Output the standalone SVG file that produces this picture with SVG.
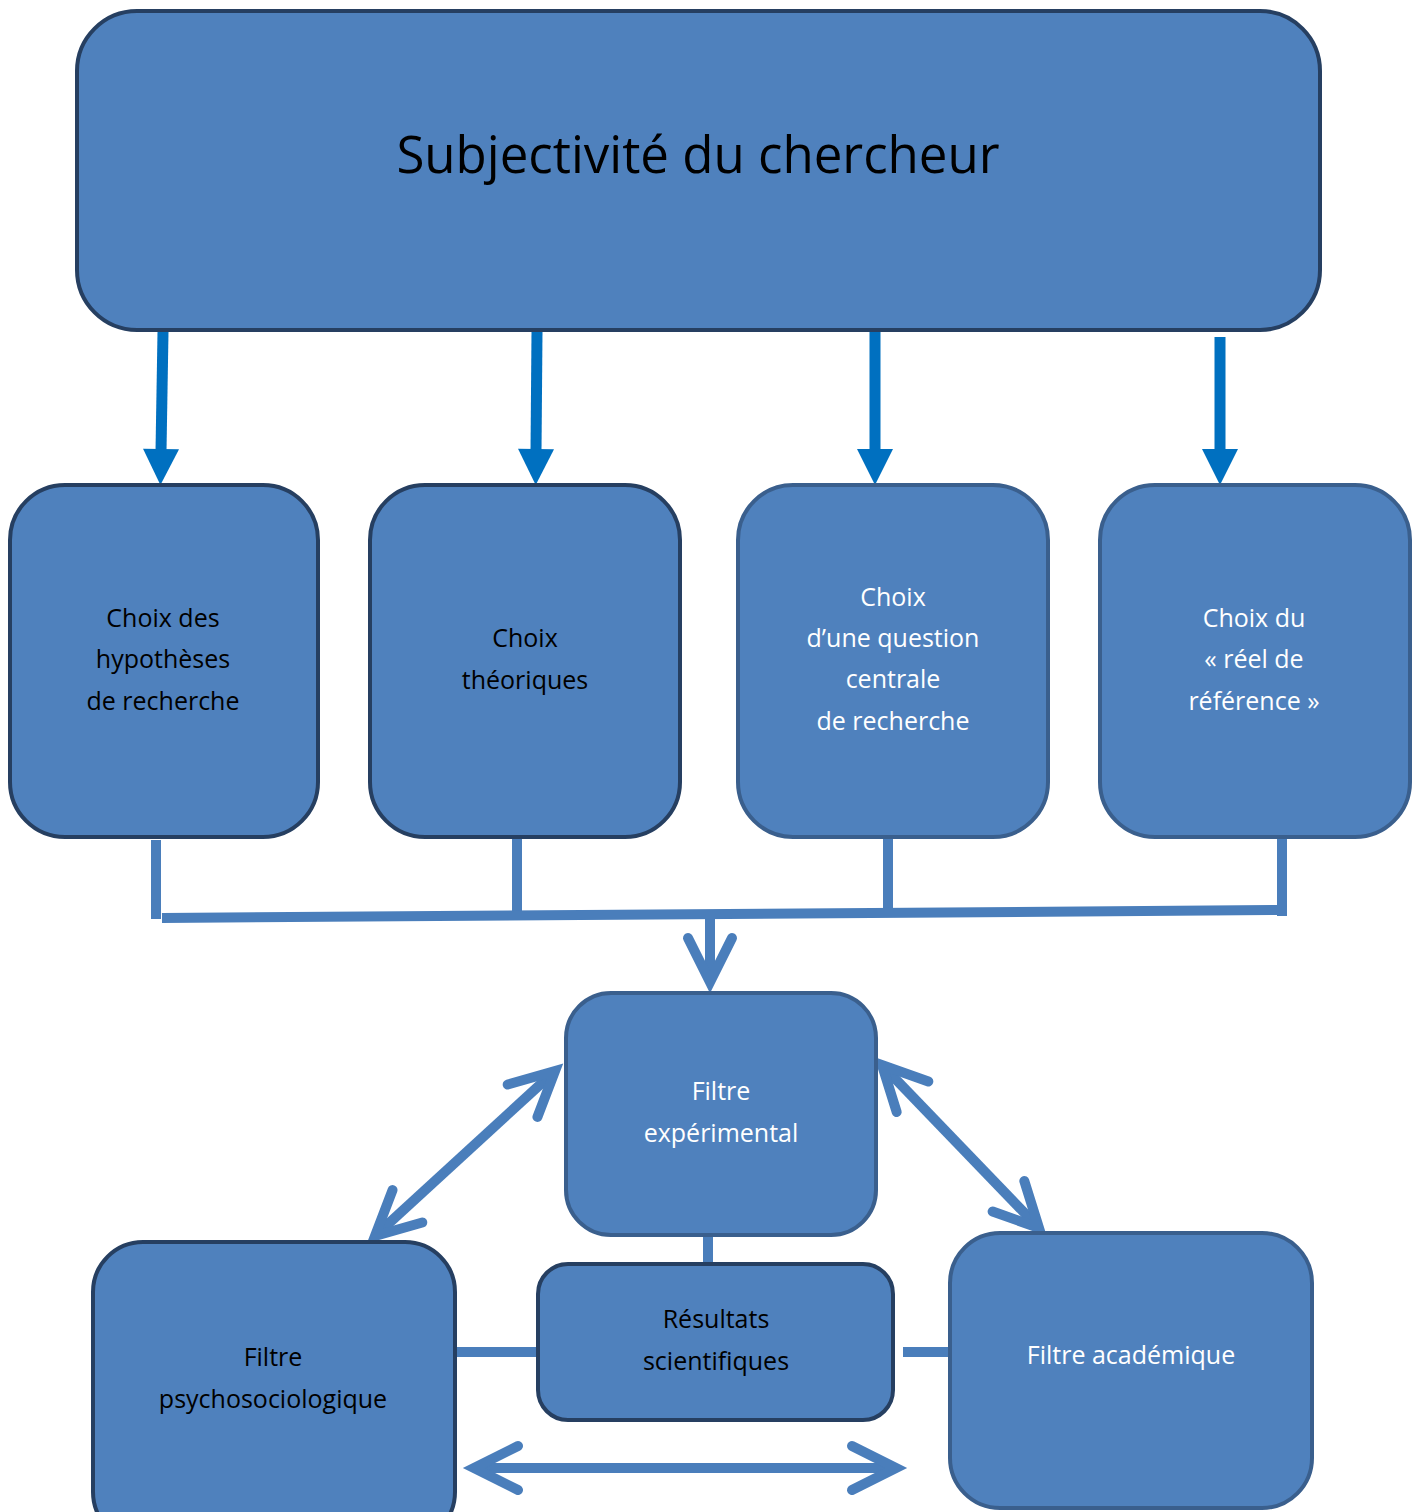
<svg xmlns="http://www.w3.org/2000/svg" width="1421" height="1512" viewBox="0 0 1421 1512">
<style>
.box{fill:#4F81BD;stroke-width:4}
.dk{stroke:#263F61}
.md{stroke:#3A5F8D}
.t{font-family:"Open Sans","Noto Sans",sans-serif;font-size:25px;text-anchor:middle}
.b{fill:#000}
.w{fill:#fff}
.blue{stroke:#0070C0;stroke-width:11;fill:none}
.lnk{stroke:#4A7EBB;stroke-width:10;fill:none}
</style>
<defs>
<marker id="tri" markerUnits="userSpaceOnUse" markerWidth="40" markerHeight="40" refX="0" refY="0" orient="auto" overflow="visible" viewBox="-40 -20 40 40">
<path d="M -2 -18 L 34 0 L -2 18 Z" fill="#0070C0"/>
</marker>
<marker id="chev" markerUnits="userSpaceOnUse" markerWidth="60" markerHeight="60" refX="0" refY="0" orient="auto-start-reverse" overflow="visible" viewBox="-60 -30 60 60">
<path d="M -44 -22 L 0 0 L -44 22" fill="none" stroke="#4A7EBB" stroke-width="10" stroke-linecap="round" stroke-linejoin="miter"/>
</marker>
</defs>
<g id="connectors">
<line class="blue" x1="163" y1="332" x2="161" y2="451" marker-end="url(#tri)"/>
<line class="blue" x1="537" y1="332" x2="536" y2="451" marker-end="url(#tri)"/>
<line class="blue" x1="875" y1="332" x2="875" y2="451" marker-end="url(#tri)"/>
<line class="blue" x1="1220" y1="337" x2="1220" y2="451" marker-end="url(#tri)"/>
<line class="lnk" x1="156" y1="840" x2="156" y2="919"/>
<line class="lnk" x1="517" y1="838" x2="517" y2="913"/>
<line class="lnk" x1="888" y1="838" x2="888" y2="913"/>
<line class="lnk" x1="1282" y1="838" x2="1282" y2="916"/>
<line class="lnk" x1="162" y1="918" x2="1287" y2="910"/>
<line class="lnk" x1="710" y1="914" x2="710" y2="982" marker-end="url(#chev)"/>
<line class="lnk" x1="555" y1="1071" x2="375" y2="1236" marker-start="url(#chev)" marker-end="url(#chev)"/>
<line class="lnk" x1="882" y1="1065" x2="1039" y2="1228" marker-start="url(#chev)" marker-end="url(#chev)"/>
<line class="lnk" x1="474" y1="1468" x2="896" y2="1468" marker-start="url(#chev)" marker-end="url(#chev)"/>
<line class="lnk" x1="708" y1="1235" x2="708" y2="1264"/>
<line class="lnk" x1="455" y1="1352" x2="540" y2="1352"/>
<line class="lnk" x1="903" y1="1352" x2="952" y2="1352"/>
</g>
<g id="n-subjectivite">
<rect class="box dk" x="77" y="11" width="1243" height="319" rx="60"/>
<text x="698" y="173" font-family="Open Sans,Noto Sans,sans-serif" font-size="51" text-anchor="middle" fill="#000">Subjectivité du chercheur</text>
</g>
<g id="n-hypotheses">
<rect class="box dk" x="10" y="485" width="308" height="352" rx="55"/>
<text class="t b" x="163" y="627">Choix des</text>
<text class="t b" x="163" y="668">hypothèses</text>
<text class="t b" x="163" y="710">de recherche</text>
</g>
<g id="n-theoriques">
<rect class="box dk" x="370" y="485" width="310" height="352" rx="55"/>
<text class="t b" x="525" y="647">Choix</text>
<text class="t b" x="525" y="689">théoriques</text>
</g>
<g id="n-question">
<rect class="box md" x="738" y="485" width="310" height="352" rx="55"/>
<text class="t w" x="893" y="606">Choix</text>
<text class="t w" x="893" y="647">d’une question</text>
<text class="t w" x="893" y="688">centrale</text>
<text class="t w" x="893" y="730">de recherche</text>
</g>
<g id="n-reel">
<rect class="box md" x="1100" y="485" width="310" height="352" rx="55"/>
<text class="t w" x="1254" y="627">Choix du</text>
<text class="t w" x="1254" y="668">« réel de</text>
<text class="t w" x="1254" y="710">référence »</text>
</g>
<g id="n-experimental">
<rect class="box md" x="566" y="993" width="310" height="242" rx="45"/>
<text class="t w" x="721" y="1100">Filtre</text>
<text class="t w" x="721" y="1142">expérimental</text>
</g>
<g id="n-resultats">
<rect class="box dk" x="538" y="1264" width="355" height="156" rx="30"/>
<text class="t b" x="716" y="1328">Résultats</text>
<text class="t b" x="716" y="1370">scientifiques</text>
</g>
<g id="n-psycho">
<rect class="box dk" x="93" y="1242" width="362" height="300" rx="50"/>
<text class="t b" x="273" y="1366">Filtre</text>
<text class="t b" x="273" y="1408">psychosociologique</text>
</g>
<g id="n-academique">
<rect class="box md" x="950" y="1233" width="362" height="275" rx="50"/>
<text class="t w" x="1131" y="1364">Filtre académique</text>
</g>
</svg>
